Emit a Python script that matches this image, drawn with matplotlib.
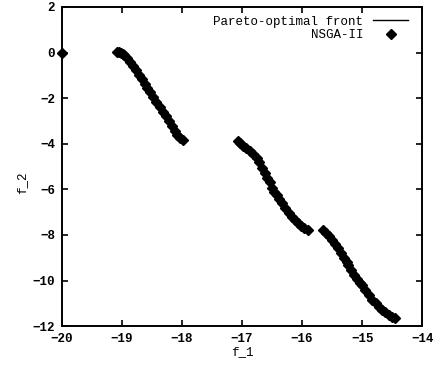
import matplotlib
matplotlib.use("Agg")
import matplotlib.pyplot as plt
import numpy as np

# NSGA-II solutions, one list per piece of the front
iso_f1 = [-20.0]
iso_f2 = [0.0]

seg1_f1 = [-19.08, -19.05, -19.02, -18.99, -18.96, -18.92, -18.87, -18.82, -18.77, -18.72,
           -18.67, -18.62, -18.58, -18.53, -18.48, -18.43, -18.37, -18.32, -18.27, -18.22,
           -18.17, -18.12, -18.08, -18.03, -17.98]
seg1_f2 = [0.03, 0.02, 0.0, -0.05, -0.12, -0.25, -0.41, -0.6, -0.78, -0.98,
           -1.18, -1.38, -1.55, -1.75, -1.95, -2.15, -2.38, -2.6, -2.8, -3.02,
           -3.22, -3.43, -3.61, -3.75, -3.85]

seg2_f1 = [-17.07, -17.03, -16.98, -16.93, -16.87, -16.81, -16.75, -16.71, -16.66, -16.62,
           -16.58, -16.54, -16.5, -16.46, -16.42, -16.38, -16.33, -16.28, -16.22, -16.16,
           -16.11, -16.07, -16.02, -15.96, -15.9]
seg2_f2 = [-3.88, -3.97, -4.08, -4.2, -4.33, -4.47, -4.62, -4.82, -5.05, -5.28,
           -5.5, -5.7, -5.92, -6.1, -6.25, -6.42, -6.62, -6.82, -7.02, -7.2,
           -7.36, -7.47, -7.6, -7.7, -7.78]

seg3_f1 = [-15.65, -15.61, -15.56, -15.5, -15.45, -15.4, -15.35, -15.3, -15.26, -15.23,
           -15.18, -15.13, -15.08, -15.03, -15.0, -14.95, -14.89, -14.83, -14.77, -14.72,
           -14.67, -14.62, -14.56, -14.5, -14.45]
seg3_f2 = [-7.78, -7.9, -8.05, -8.22, -8.4, -8.57, -8.8, -9.02, -9.2, -9.32,
           -9.55, -9.75, -9.95, -10.1, -10.2, -10.4, -10.62, -10.85, -11.0, -11.15,
           -11.29, -11.4, -11.5, -11.58, -11.64]

x_ticks = [-20, -19, -18, -17, -16, -15, -14]
y_ticks = [-12, -10, -8, -6, -4, -2, 0, 2]

plt.rcParams['font.family'] = ['Liberation Mono', 'DejaVu Sans Mono']
plt.rcParams['font.size'] = 9

fig = plt.figure(figsize=(4.33, 3.66), dpi=100)
ax = fig.add_axes([0.143, 0.109, 0.832, 0.872])

# pareto front drawn as a thin line under the points (pieces kept apart)
first = True
for xs, ys in [(seg1_f1, seg1_f2), (seg2_f1, seg2_f2), (seg3_f1, seg3_f2)]:
    ax.plot(xs, ys, '-', color='black', lw=1.0,
            label='Pareto-optimal front' if first else None)
    first = False

all_f1 = iso_f1 + seg1_f1 + seg2_f1 + seg3_f1
all_f2 = iso_f2 + seg1_f2 + seg2_f2 + seg3_f2
ax.plot(all_f1, all_f2, 'D', color='black', ms=4.8, mec='black',
        label='NSGA-II', clip_on=False, zorder=3)

ax.set_xlim(-20, -14)
ax.set_ylim(-12, 2)
ax.set_xticks(x_ticks)
ax.set_yticks(y_ticks)
ax.tick_params(direction='in', top=True, right=True, length=4, width=1.2, pad=5)
for lab in ax.get_xticklabels() + ax.get_yticklabels():
    lab.set_fontweight('bold')
for sp in ax.spines.values():
    sp.set_linewidth(1.4)

ax.set_xlabel('f_1', labelpad=1)
ax.set_ylabel('f_2')
ax.yaxis.set_label_coords(-0.095, 0.45)

ax.legend(loc='upper right', frameon=False, markerfirst=False,
          handlelength=2.8, handletextpad=0.8, borderaxespad=0.3,
          bbox_to_anchor=(0.985, 1.0),
          labelspacing=0.1, numpoints=1)

plt.savefig('out.png', dpi=100)
